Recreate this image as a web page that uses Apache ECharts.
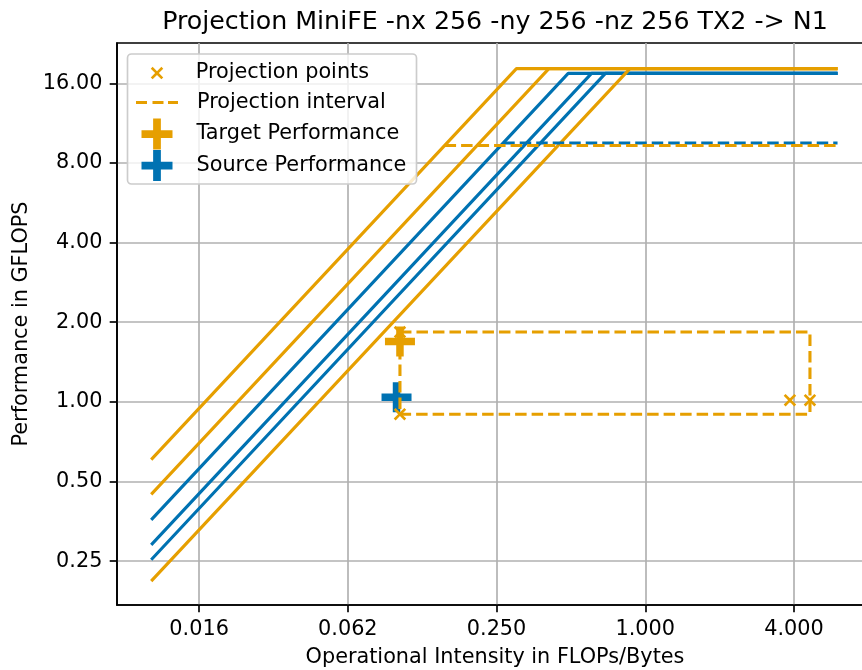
<!DOCTYPE html>
<html><head><meta charset="utf-8">
<script src="https://cdn.jsdelivr.net/npm/echarts@6/dist/echarts.min.js"></script>
<style>html,body{margin:0;padding:0;background:#fff}#chart{width:862px;height:670px}</style>
</head><body><div id="chart"></div>
<script>
// ---------- data ----------
const titleText = 'Projection MiniFE -nx 256 -ny 256 -nz 256 TX2 -> N1';
const xAxisName = 'Operational Intensity in FLOPs/Bytes';
const yAxisName = 'Performance in GFLOPS';
const xTickValues = [0.015625, 0.0625, 0.25, 1, 4];
const xTickLabels = ['0.016', '0.062', '0.250', '1.000', '4.000'];
const yTickValues = [0.25, 0.5, 1, 2, 4, 8, 16];
const yTickLabels = ['0.25', '0.50', '1.00', '2.00', '4.00', '8.00', '16.00'];
const xExtent = [0.00727, 8.35];
const yExtent = [0.1706, 22.74];

const rooflineX = [0.01, 6];
const targetBandwidths = [60.5, 44.7, 21.0];
const targetPeak = 18.2;
const sourceBandwidths = [35.8, 28.8, 25.3];
const sourcePeak = 17.45;
const targetDashedY = 9.32;
const targetDashedX = [0.154, 6];
const sourceDashedY = 9.52;
const sourceDashedX = [0.266, 6];

const targetPerformance = [0.1016, 1.69];
const sourcePerformance = [0.0984, 1.042];
const projectionPointsX = [0.1016, 0.1016, 3.85, 4.64];
const projectionPointsY = [1.836, 0.898, 1.015, 1.015];
const intervalX = [0.1016, 4.64, 4.64, 0.1016, 0.1016];
const intervalY = [1.836, 1.836, 0.898, 0.898, 1.836];

// ---------- styling ----------
const ORANGE = '#E69F00';
const BLUE = '#0072B2';
const FONT = 'DejaVu Sans';
const LW = 3.1;
const DASH = [11.5, 5];
const L = Math.log2;
const xPath = 'path://M0,1.5 L1.5,0 L5,3.5 L8.5,0 L10,1.5 L6.5,5 L10,8.5 L8.5,10 L5,6.5 L1.5,10 L0,8.5 L3.5,5 Z';
const plusPath = 'path://M-1,-4 H1 V-1 H4 V1 H1 V4 H-1 V1 H-4 V-1 H-1 Z';
const dashIcon = 'path://M0,0 H11 V3 H0 Z M16.5,0 H27.5 V3 H16.5 Z M32,0 H42 V3 H32 Z';

function roofSeries(bw, peak, color, name) {
  return {
    name: name, type: 'line', symbol: 'none', z: 2,
    lineStyle: { color: color, width: LW },
    data: [[L(rooflineX[0]), L(bw * rooflineX[0])], [L(peak / bw), L(peak)], [L(rooflineX[1]), L(peak)]]
  };
}
const series = [];
sourceBandwidths.forEach((bw, i) => series.push(roofSeries(bw, sourcePeak, BLUE, 'src' + i)));
targetBandwidths.forEach((bw, i) => series.push(roofSeries(bw, targetPeak, ORANGE, 'tgt' + i)));
series.push({
  name: 'srcDash', type: 'line', symbol: 'none', z: 2,
  lineStyle: { color: BLUE, width: LW, type: DASH },
  data: sourceDashedX.map(x => [L(x), L(sourceDashedY)])
});
series.push({
  name: 'tgtDash', type: 'line', symbol: 'none', z: 2,
  lineStyle: { color: ORANGE, width: LW, type: DASH },
  data: targetDashedX.map(x => [L(x), L(targetDashedY)])
});
series.push({
  name: 'Source Performance', type: 'scatter', symbol: plusPath, symbolSize: 30, z: 3,
  itemStyle: { color: BLUE, opacity: 1 },
  data: [[L(sourcePerformance[0]), L(sourcePerformance[1])]]
});
series.push({
  name: 'Target Performance', type: 'scatter', symbol: plusPath, symbolSize: 30, z: 3,
  itemStyle: { color: ORANGE, opacity: 1 },
  data: [[L(targetPerformance[0]), L(targetPerformance[1])]]
});
series.push({
  name: 'Projection interval', type: 'line', symbol: 'none', z: 4,
  lineStyle: { color: ORANGE, width: LW, type: DASH },
  itemStyle: { color: ORANGE },
  data: intervalX.map((x, i) => [L(x), L(intervalY[i])])
});
series.push({
  name: 'Projection points', type: 'scatter', symbol: xPath, symbolSize: 12.5, z: 5,
  itemStyle: { color: ORANGE, opacity: 1 },
  data: projectionPointsX.map((x, i) => [L(x), L(projectionPointsY[i])])
});

const xTickLogs = xTickValues.map(L);
const yTickLogs = yTickValues.map(L);
function fmt(logs, labels) {
  return v => { const i = logs.findIndex(t => Math.abs(t - v) < 1e-6); return i >= 0 ? labels[i] : ''; };
}
const axisCommon = {
  type: 'value',
  axisLine: { show: true, onZero: false, lineStyle: { color: '#000', width: 1.67 } },
  axisTick: { show: true, length: 7.3, lineStyle: { color: '#000', width: 1.67 } },
  splitLine: { show: true, lineStyle: { color: '#b0b0b0', width: 1.67 } },
  nameLocation: 'middle',
  nameTextStyle: { fontFamily: FONT, fontSize: 20.8, color: '#000' }
};
const labelCommon = { fontFamily: FONT, fontSize: 20.8, color: '#000', margin: 14.6 };
const legendText = (pad) => ({ fontFamily: FONT, fontSize: 20.8, color: '#000', padding: [0, 0, 0, pad] });

const option = {
  animation: false,
  backgroundColor: '#fff',
  title: {
    text: titleText, left: 495, textAlign: 'center', top: 10, padding: 0,
    textStyle: { fontFamily: FONT, fontSize: 25.3, fontWeight: 'normal', color: '#000' }
  },
  grid: { left: 117, top: 43, width: 756, height: 562, show: true, borderColor: '#000', borderWidth: 1.67,
          backgroundColor: 'transparent', containLabel: false, outerBoundsMode: 'none' },
  xAxis: Object.assign({}, axisCommon, {
    min: L(xExtent[0]), max: L(xExtent[1]), name: xAxisName, nameGap: 42,
    axisTick: Object.assign({}, axisCommon.axisTick, { customValues: xTickLogs }),
    axisLabel: Object.assign({}, labelCommon, { customValues: xTickLogs, formatter: fmt(xTickLogs, xTickLabels) })
  }),
  yAxis: Object.assign({}, axisCommon, {
    min: L(yExtent[0]), max: L(yExtent[1]), name: yAxisName, nameGap: 82,
    axisTick: Object.assign({}, axisCommon.axisTick, { customValues: yTickLogs }),
    axisLabel: Object.assign({}, labelCommon, { customValues: yTickLogs, formatter: fmt(yTickLogs, yTickLabels) })
  }),
  graphic: { elements: [{
    type: 'rect', z: 10, silent: true,
    shape: { x: 127.5, y: 54, width: 289, height: 130, r: 4 },
    style: { fill: 'rgba(255,255,255,0.8)', stroke: '#cccccc', lineWidth: 1.67 }
  }] },
  legend: [
    { data: ['Projection points'], left: 150.75, top: 62.5, padding: 0, itemWidth: 12.5, itemHeight: 12.5,
      selectedMode: false, z: 20, textStyle: legendText(27.5) },
    { data: [{ name: 'Projection interval', icon: dashIcon }], left: 136, top: 92, padding: 0, itemWidth: 42, itemHeight: 3,
      selectedMode: false, z: 20, textStyle: legendText(14) },
    { data: ['Target Performance', 'Source Performance'], orient: 'vertical', left: 141.5, top: 118.5, padding: 0,
      itemWidth: 31, itemHeight: 31, itemGap: 0.5, selectedMode: false, z: 20, textStyle: legendText(19) }
  ],
  series: series
};
const chart = echarts.init(document.getElementById('chart'), null, { renderer: 'canvas' });
chart.setOption(option);
</script>
</body></html>
